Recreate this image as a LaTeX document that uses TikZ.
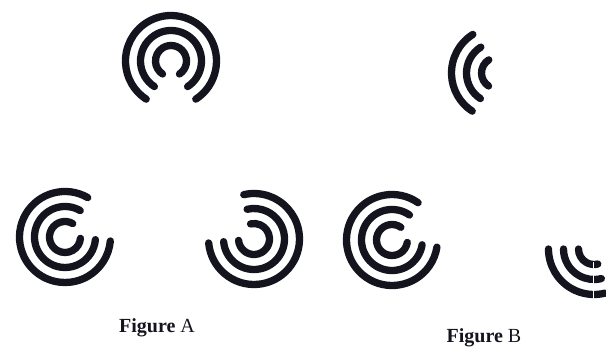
\documentclass[tikz,border=0pt]{standalone}
\usepackage{fontspec}
\setmainfont{Liberation Serif}
\definecolor{ink}{RGB}{20,20,30}
\newcommand\threearcs[3]{%
  \foreach \rr in {45.5,30.5,15.5}{%
    \draw[ringline] (#1) ++(#2:\rr pt) arc[start angle=#2, end angle=#3, radius=\rr pt];
  }%
}
\begin{document}
\begin{tikzpicture}[x=1pt,y=1pt,
  ringline/.style={line width=7.3pt, line cap=round, draw=ink},
  caption/.style={font=\fontsize{20}{22}\selectfont, text=ink, inner sep=0pt}]
\fill[white] (0,0) rectangle (606,356);
\useasboundingbox (0,0) rectangle (606,356);
\begin{scope}
\clip (0,0) rectangle (606,356);
% Figure A
\coordinate (atop) at (171,295);
\coordinate (aleft) at (65,119);
\coordinate (amid) at (254,117);
\threearcs{atop}{-57}{237}
\threearcs{aleft}{60}{355}
\threearcs{amid}{-175}{103}
% Figure B
\coordinate (btop) at (497,283);
\coordinate (bleft) at (392,116);
\coordinate (bright) at (594,107);
\threearcs{btop}{122}{237}
\threearcs{bleft}{55}{351}
\threearcs{bright}{180}{284}
\draw[white, line width=1.3pt] (593.5,94) -- (593.5,54);
\end{scope}
\node[caption] (capA) at (157,28) {\textbf{Figure} A};
\node[caption] (capB) at (484,18) {\textbf{Figure} B};
\end{tikzpicture}
\end{document}
